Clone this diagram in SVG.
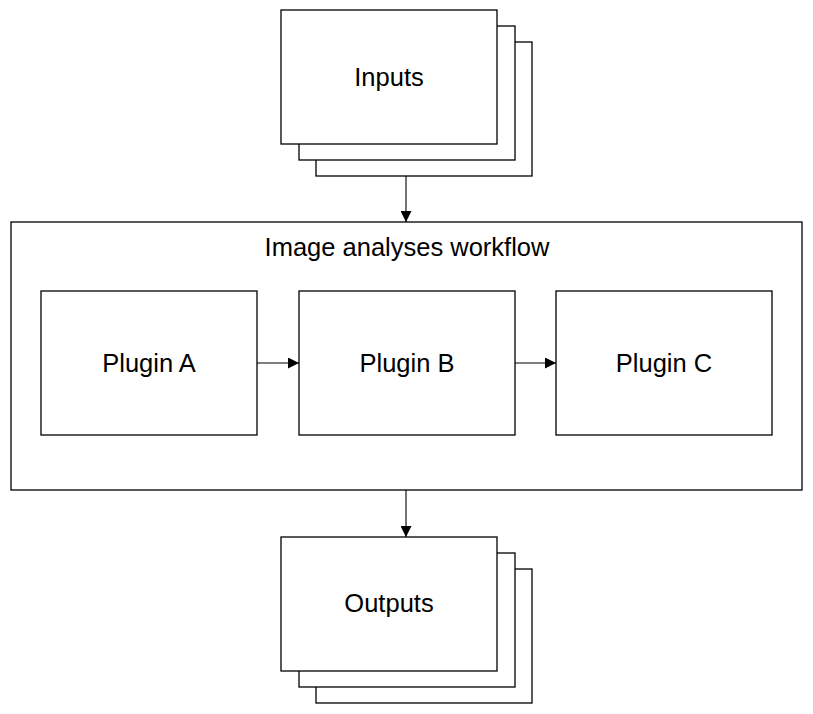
<svg xmlns="http://www.w3.org/2000/svg" width="813" height="714" viewBox="0 0 813 714">
<style>
.b{fill:#fff;stroke:#000;stroke-width:1.3}
.t{font-family:"Liberation Sans",Arial,sans-serif;font-size:25.5px;fill:#000;text-anchor:middle}
.c{stroke:#000;stroke-width:1.1;fill:none;marker-end:url(#ah)}
</style>
<defs>
<marker id="ah" viewBox="0 0 10 10" refX="10" refY="5" markerWidth="11" markerHeight="11" markerUnits="userSpaceOnUse" orient="auto">
<path d="M0,0 L10,5 L0,10 Z" fill="#000"/>
</marker>
</defs>
<rect width="813" height="714" fill="#fff"/>
<g id="inputs">
<rect class="b" x="316" y="42" width="216" height="134"/>
<rect class="b" x="299" y="26" width="216" height="134"/>
<rect class="b" x="281" y="10" width="216" height="134"/>
<text class="t" x="389" y="86">Inputs</text>
</g>
<g id="workflow">
<rect class="b" x="11" y="222" width="791" height="268"/>
<text class="t" x="407" y="256">Image analyses workflow</text>
</g>
<g id="pluginA">
<rect class="b" x="41" y="291" width="216" height="144"/>
<text class="t" x="149" y="372">Plugin A</text>
</g>
<g id="pluginB">
<rect class="b" x="299" y="291" width="216" height="144"/>
<text class="t" x="407" y="372">Plugin B</text>
</g>
<g id="pluginC">
<rect class="b" x="556" y="291" width="216" height="144"/>
<text class="t" x="664" y="372">Plugin C</text>
</g>
<g id="outputs">
<rect class="b" x="316" y="569" width="216" height="134"/>
<rect class="b" x="299" y="553" width="216" height="134"/>
<rect class="b" x="281" y="537" width="216" height="134"/>
<text class="t" x="389" y="612">Outputs</text>
</g>
<g id="connectors">
<line class="c" x1="406" y1="176" x2="406" y2="222"/>
<line class="c" x1="257" y1="363" x2="299" y2="363"/>
<line class="c" x1="515" y1="363" x2="556" y2="363"/>
<line class="c" x1="406" y1="490" x2="406" y2="537"/>
</g>
</svg>
